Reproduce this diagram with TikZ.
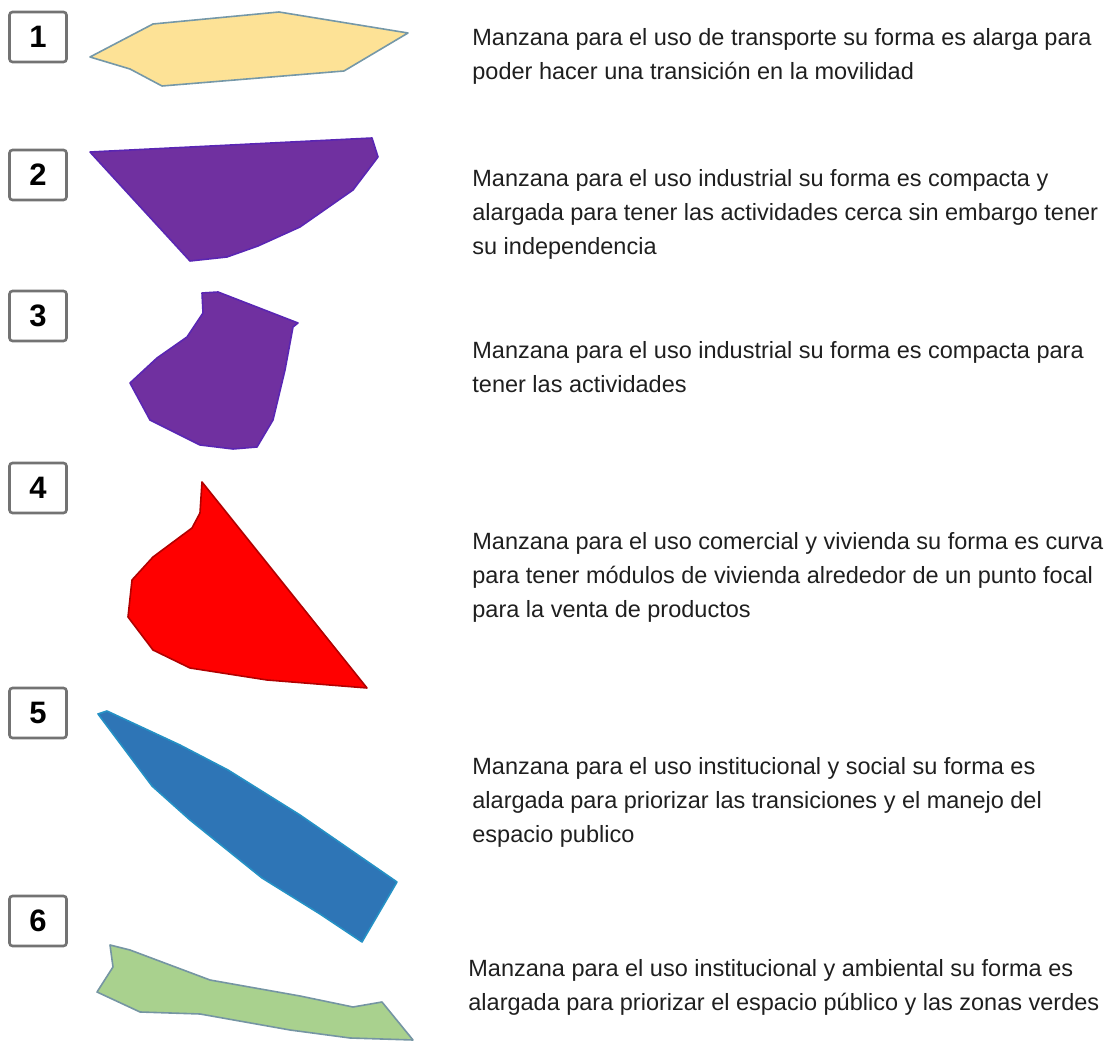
\documentclass[tikz,border=0pt]{standalone}
\usepackage{fontspec}
\setmainfont{Liberation Sans}
\usepackage{tikz}

\definecolor{amarillo}{RGB}{253,226,150}
\definecolor{morado}{RGB}{112,48,160}
\definecolor{rojo}{RGB}{255,0,0}
\definecolor{azul}{RGB}{46,117,182}
\definecolor{verde}{RGB}{169,209,142}

\tikzset{
  numbox/.style={draw=black!55,line width=1.3pt,rounded corners=1.5pt,fill=white,
    minimum width=28.5pt,minimum height=25pt,inner sep=0pt,font=\fontsize{15.5}{15.5}\selectfont\bfseries},
  desc/.style={anchor=west,align=left,inner sep=0pt,text=black!88,
    font=\fontsize{11.75}{17}\selectfont},
  manzana/.style={line width=0.8pt,line join=round}
}

\begin{document}
\begin{tikzpicture}[x=0.5pt,y=-0.5pt]
\useasboundingbox (0,0) rectangle (1110,1042);

\foreach \n/\y in {1/37,2/175,3/316,4/488,5/713,6/921}
  \node[numbox] (n\n) at (38,\y) {\n};

% manzanas
\draw[manzana,fill=amarillo,draw=black!20!cyan!40!gray] (90,57) -- (153,24) -- (279,12) -- (408,33)
  -- (344,71) -- (162,86) -- (130,69) -- cycle;
\draw[manzana,fill=morado,draw=morado!80!blue] (90,152) -- (372,138) -- (378,157) -- (353,190)
  -- (300,227) -- (258,246) -- (227,257) -- (190,261) -- cycle;
\draw[manzana,fill=morado,draw=morado!80!blue] (202,293) -- (218,292) -- (298,323) -- (293,327)
  -- (285,370) -- (273,420) -- (257,447) -- (233,449) -- (200,445) -- (150,420) -- (130,383)
  -- (157,358) -- (187,337) -- (203,313) -- cycle;
\draw[manzana,fill=rojo,draw=red!70!black] (202,482) -- (367,688) -- (267,680) -- (190,668)
  -- (153,650) -- (128,617) -- (132,580) -- (153,557) -- (192,528) -- (200,513) -- cycle;
\draw[manzana,fill=azul,draw=azul!80!cyan] (98,714) -- (107,711) -- (180,745) -- (228,770)
  -- (300,815) -- (397,882) -- (362,942) -- (320,914) -- (262,878) -- (190,820) -- (152,786) -- cycle;
\draw[manzana,fill=verde,draw=black!25!cyan!40!gray] (110,945) -- (130,950) -- (210,980)
  -- (300,996) -- (353,1007) -- (382,1002) -- (413,1040) -- (350,1038) -- (290,1030)
  -- (200,1014) -- (140,1012) -- (97,992) -- (113,967) -- cycle;

% descripciones
\node[desc] (t1) at (472,56) {Manzana para el uso de transporte su forma es alarga para\\
  poder hacer una transición en la movilidad};
\node[desc] (t2) at (472,214) {Manzana para el uso industrial su forma es compacta y\\
  alargada para tener las actividades cerca sin embargo tener\\ su independencia};
\node[desc] (t3) at (472,367) {Manzana para el uso industrial su forma es compacta para\\
  tener las actividades};
\node[desc] (t4) at (472,577) {Manzana para el uso comercial y vivienda su forma es curva\\
  para tener módulos de vivienda alrededor de un punto focal\\ para la venta de productos};
\node[desc] (t5) at (472,802) {Manzana para el uso institucional y social su forma es\\
  alargada para priorizar las transiciones y el manejo del\\ espacio publico};
\node[desc] (t6) at (468,987) {Manzana para el uso institucional y ambiental su forma es\\
  alargada para priorizar el espacio público y las zonas verdes};
\end{tikzpicture}
\end{document}
